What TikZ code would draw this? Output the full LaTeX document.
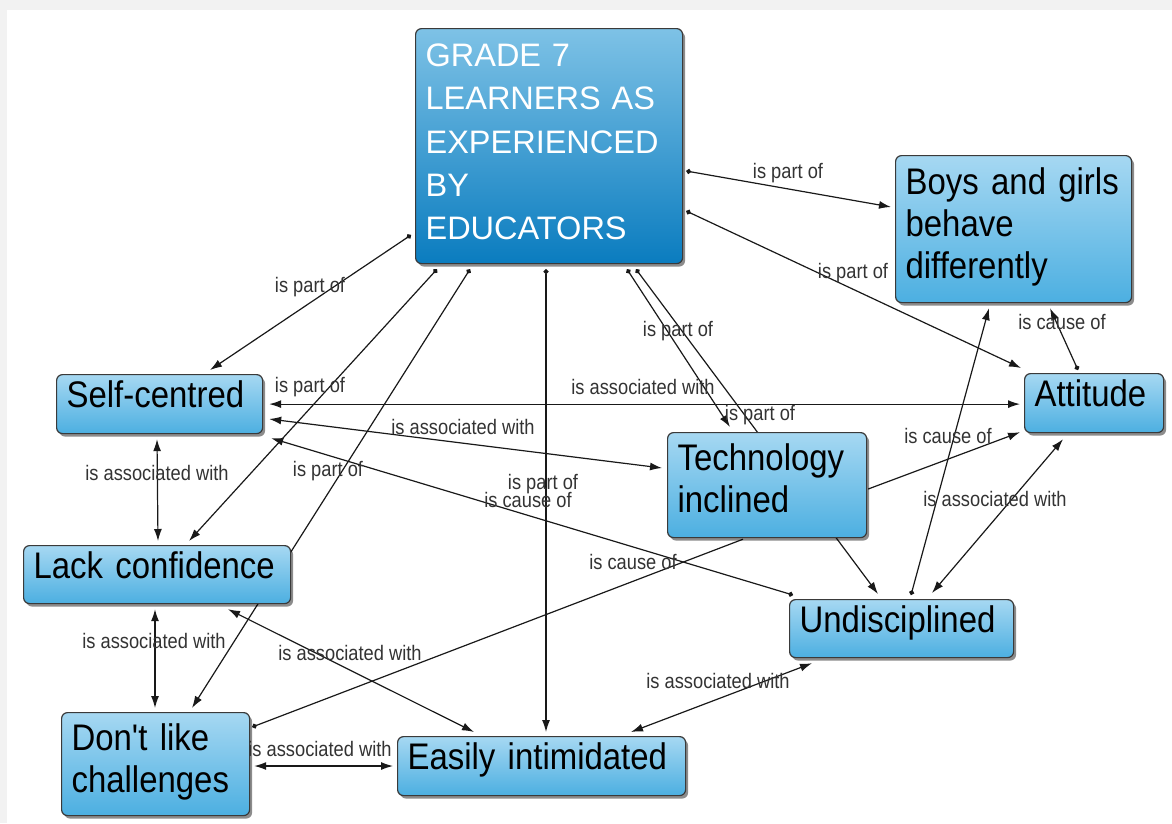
\documentclass[tikz,border=0pt]{standalone}
\usepackage{fontspec}
\usetikzlibrary{arrows.meta,calc,shadows}
\newfontfamily\boxfont{Liberation Sans}[FakeStretch=0.89]
\newfontfamily\ctrfont{Liberation Sans}
\newfontfamily\labfont{Liberation Sans}[FakeStretch=0.87]
\definecolor{boxtop}{HTML}{A6D8F2}
\definecolor{boxbot}{HTML}{4CAFE1}
\definecolor{ctrtop}{HTML}{7EC2E6}
\definecolor{ctrbot}{HTML}{0A7CBF}
\definecolor{edge}{HTML}{3A3A3A}
\definecolor{labgray}{HTML}{333333}
\definecolor{bandgray}{HTML}{F2F2F2}
\newcommand{\liftby}[1]{\par\vspace{#1}\hrule height 0pt}
\pgfdeclarelayer{bg}
\pgfdeclarelayer{background}
\pgfsetlayers{bg,background,main}
\tikzset{
  concept/.style={draw=edge, line width=1.2pt, rounded corners=6pt,
    top color=boxtop, bottom color=boxbot, anchor=north west,
    inner xsep=10pt, inner ysep=0pt, align=left,
    font=\boxfont\fontsize{37}{42}\selectfont, text=black,
    drop shadow={shadow xshift=2.5pt, shadow yshift=-3pt, opacity=0.45, fill=black}},
  oneline/.style={concept, text height=0.88em, text depth=0.12em},
  mainconcept/.style={concept, top color=ctrtop, bottom color=ctrbot,
    text=white, font=\ctrfont\fontsize{32.5}{43.3}\selectfont},
  link/.style={line width=1.2pt, draw=black!90},
  one/.style={link, -{Latex[length=12pt,width=8pt]}},
  both/.style={link, {Latex[length=12pt,width=8pt]}-{Latex[length=12pt,width=8pt]}},
  dotone/.style={link, {Circle[length=5pt]}-{Latex[length=12pt,width=8pt]}},
  dotonly/.style={link, {Circle[length=5pt]}-},
  lab/.style={font=\labfont\fontsize{21}{24}\selectfont, text=labgray, inner sep=0pt}
}
\begin{document}
\begin{tikzpicture}[x=1pt,y=-1pt]
\useasboundingbox (0,0) rectangle (1172,823);
\begin{pgfonlayer}{bg}
  \fill[bandgray] (0,0) rectangle (1172,823);
  \fill[white] (7,10) rectangle (1172,823);
\end{pgfonlayer}

% concepts
\node[mainconcept, text width=247pt, minimum height=235pt] (C) at (415,28)
  {\mbox{GRADE 7}\\\mbox{LEARNERS AS}\\\mbox{EXPERIENCED}\\BY\\EDUCATORS\liftby{8pt}};
\node[concept, text width=216pt, minimum height=147pt] (B) at (895,155)
  {\mbox{Boys and girls}\\behave\\differently\liftby{5pt}};
\node[oneline, text width=119pt, minimum height=59pt] (A) at (1024,373) {\mbox{Attitude}};
\node[oneline, text width=186pt, minimum height=59pt] (S) at (56,374) {\mbox{Self-centred}};
\node[concept, text width=179pt, minimum height=105pt] (T) at (667,432)
  {\mbox{Technology}\\inclined\liftby{14pt}};
\node[oneline, text width=247pt, minimum height=58pt] (L) at (23,545) {\mbox{Lack confidence}};
\node[oneline, text width=204pt, minimum height=58pt] (U) at (789,599) {\mbox{Undisciplined}};
\node[concept, text width=168pt, minimum height=103pt] (D) at (61,712)
  {\mbox{Don't like}\\\mbox{challenges}\liftby{4pt}};
\node[oneline, text width=268pt, minimum height=59pt] (E) at (397,736) {\mbox{Easily intimidated}};

% connectors (behind the concepts)
\begin{pgfonlayer}{background}
  \draw[dotone] ($(C.north east)+(3,143)$) -- ($(B.north west)+(-4,52)$);
  \draw[dotone] ($(C.north east)+(3,183)$) -- ($(A.north west)+(-3,-5)$);
  \draw[dotone] ($(C.north west)+(-4,207)$) -- ($(S.north west)+(154,-4)$);
  \draw[dotone] ($(C.south west)+(22,5)$) -- ($(L.north west)+(166,-4)$);
  \draw[dotone] ($(C.south west)+(55,5)$) -- ($(D.north west)+(131,-4)$);
  \draw[dotone] ($(C.south west)+(131,5)$) -- ($(E.north west)+(149,-4)$);
  \draw[dotone] ($(C.south west)+(212,5)$) -- ($(T.north west)+(63,-5)$);
  \draw[dotone] ($(C.south west)+(221,5)$) -- ($(U.north west)+(89,-5)$);
  \draw[both] ($(S.east)+(6,0)$) -- ($(A.west)+(-4,1)$);
  \draw[both] ($(S.north east)+(6,45)$) -- ($(T.north west)+(-5,36)$);
  \draw[dotone] ($(U.north west)+(4,-4)$) -- ($(S.south east)+(8,4)$);
  \draw[dotonly] ($(D.north east)+(2,15)$) -- ($(T.south west)+(76,1)$);
  \draw[one] ($(T.north east)+(1,57)$) -- ($(A.south west)+(-4,-1)$);
  \draw[dotone] ($(U.north west)+(122,-4)$) -- ($(B.south west)+(94,5)$);
  \draw[dotone] ($(A.north west)+(54,-3)$) -- ($(B.south west)+(155,5)$);
  \draw[both] ($(U.north west)+(143,-6)$) -- ($(A.south west)+(39,6)$);
  \draw[both] ($(S.south west)+(101,5)$) -- ($(L.north west)+(135,-4)$);
  \draw[both] ($(L.south west)+(132,5)$) -- ($(D.north west)+(94,-4)$);
  \draw[both] ($(L.south west)+(205,5)$) -- ($(E.north west)+(77,-4)$);
  \draw[both] ($(D.north east)+(4,54)$) -- ($(E.north west)+(-4,30)$);
  \draw[both] ($(E.north west)+(234,-4)$) -- ($(U.south west)+(23,5)$);
\end{pgfonlayer}

% link labels
\node[lab] (l1) at (788,173) {is part of};
\node[lab] (l2) at (853,273) {is part of};
\node[lab] (l3) at (310,287) {is part of};
\node[lab] (l4) at (310,387) {is part of};
\node[lab] (l5) at (328,471) {is part of};
\node[lab] (l6) at (543,484) {is part of};
\node[lab] (l7) at (678,331) {is part of};
\node[lab] (l8) at (760,415) {is part of};
\node[lab] (l9) at (643,387) {is associated with};
\node[lab] (l10) at (463,427) {is associated with};
\node[lab] (l11) at (528,500) {is cause of};
\node[lab] (l12) at (633,562) {is cause of};
\node[lab] (l13) at (948,436) {is cause of};
\node[lab] (l14) at (1062,322) {is cause of};
\node[lab] (l15) at (995,499) {is associated with};
\node[lab] (l16) at (157,473) {is associated with};
\node[lab] (l17) at (154,641) {is associated with};
\node[lab] (l18) at (350,653) {is associated with};
\node[lab] (l19) at (320,749) {is associated with};
\node[lab] (l20) at (718,681) {is associated with};
\end{tikzpicture}
\end{document}
